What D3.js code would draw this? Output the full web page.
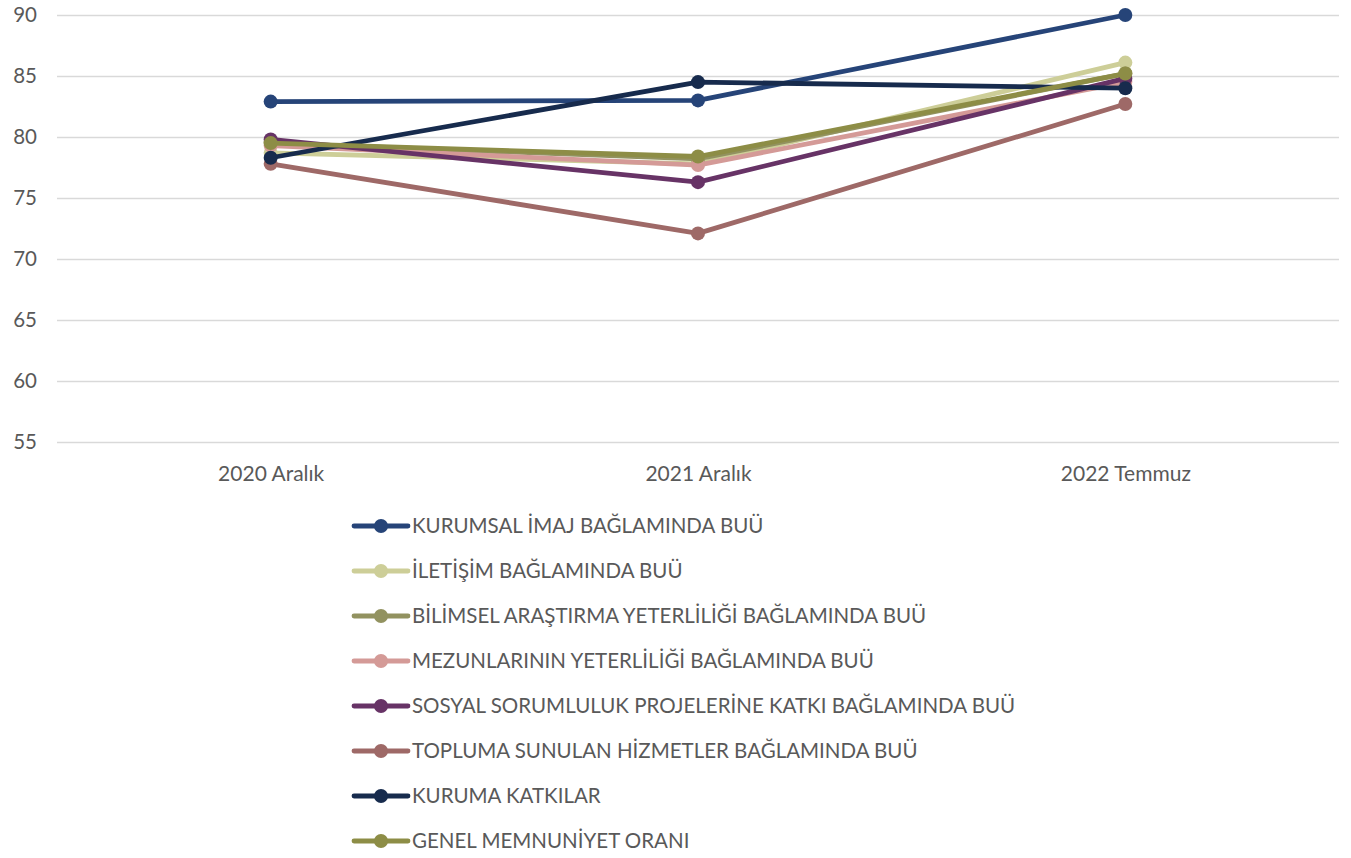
<!DOCTYPE html>
<html>
<head>
<meta charset="utf-8">
<script src="https://cdn.jsdelivr.net/npm/d3@7"></script>
<style>
  body { margin: 0; background: #fff; }
  text { font-family: Lato, "Open Sans", sans-serif; fill: #595959; }
</style>
</head>
<body>
<script>
// periods on the x axis
const periods = ['2020 Aralık', '2021 Aralık', '2022 Temmuz'];

// series names, in draw order
const seriesNames = [
  'KURUMSAL İMAJ BAĞLAMINDA BUÜ',
  'İLETİŞİM BAĞLAMINDA BUÜ',
  'BİLİMSEL ARAŞTIRMA YETERLİLİĞİ BAĞLAMINDA BUÜ',
  'MEZUNLARININ YETERLİLİĞİ BAĞLAMINDA BUÜ',
  'SOSYAL SORUMLULUK PROJELERİNE KATKI BAĞLAMINDA BUÜ',
  'TOPLUMA SUNULAN HİZMETLER BAĞLAMINDA BUÜ',
  'KURUMA KATKILAR',
  'GENEL MEMNUNİYET ORANI'
];

// values per series, one per period
const kurumsal = [82.9, 83.0, 90.0];
const iletisim = [78.7, 77.8, 86.1];
const bilimsel = [79.5, 78.2, 85.2];
const mezun = [79.3, 77.7, 84.5];
const sosyal = [79.8, 76.3, 84.8];
const topluma = [77.8, 72.1, 82.7];
const kuruma = [78.3, 84.5, 84.0];
const genel = [79.5, 78.4, 85.2];

const seriesColors = ['#264478', '#cdce98', '#929260', '#d49a97', '#673366', '#9e6967', '#172b4d', '#8d8d46'];

const yTicks = [55, 60, 65, 70, 75, 80, 85, 90];

const allValues = [kurumsal, iletisim, bilimsel, mezun, sosyal, topluma, kuruma, genel];
const series = seriesNames.map((n, i) => ({name: n, values: allValues[i], color: seriesColors[i]}));

const width = 1351, height = 858;
const margin = {top: 15, right: 12, bottom: 416, left: 57};

const svg = d3.select('body').append('svg')
  .attr('width', width)
  .attr('height', height);

const xScale = d3.scalePoint()
  .domain(periods)
  .range([margin.left, width - margin.right])
  .padding(0.5);

const yScale = d3.scaleLinear()
  .domain([55, 90])
  .range([height - margin.bottom, margin.top]);

// grid lines
const yAxis = d3.axisLeft(yScale)
  .tickValues(yTicks)
  .tickSize(-(width - margin.right - margin.left))
  .tickFormat(d3.format('d'));

const gy = svg.append('g')
  .attr('transform', `translate(${margin.left},0)`)
  .call(yAxis);
gy.select('.domain').remove();
gy.selectAll('line').attr('stroke', '#d9d9d9').attr('stroke-width', 1.3);
gy.selectAll('text')
  .attr('x', -20)
  .attr('font-size', 20.5)
  .style('font-family', 'Lato, sans-serif')
  .attr('fill', '#595959');

// x labels
const xAxis = d3.axisBottom(xScale).tickSize(0);
const gx = svg.append('g')
  .attr('transform', `translate(0,${height - margin.bottom})`)
  .call(xAxis);
gx.select('.domain').remove();
gx.selectAll('text')
  .attr('dy', 0)
  .attr('y', 39)
  .attr('font-size', 21)
  .style('font-family', 'Lato, sans-serif')
  .attr('fill', '#595959');

// lines + markers
const line = d3.line()
  .x((d, i) => xScale(periods[i]))
  .y(d => yScale(d));

series.forEach(function(s){
  const g = svg.append('g');
  g.append('path')
    .datum(s.values)
    .attr('d', line)
    .attr('fill', 'none')
    .attr('stroke', s.color)
    .attr('stroke-width', 4.8)
    .attr('stroke-linejoin', 'round');
  g.selectAll('circle')
    .data(s.values)
    .join('circle')
    .attr('cx', (d, i) => xScale(periods[i]))
    .attr('cy', d => yScale(d))
    .attr('r', 7)
    .attr('fill', s.color);
});

// legend
const legend = svg.append('g').attr('transform', 'translate(354,526)');
series.forEach(function(s, i){
  const row = legend.append('g').attr('transform', `translate(0,${i * 45})`);
  row.append('line')
    .attr('x1', 0).attr('x2', 54)
    .attr('stroke', s.color)
    .attr('stroke-width', 4.8)
    .attr('stroke-linecap', 'round');
  row.append('circle')
    .attr('cx', 27).attr('r', 7)
    .attr('fill', s.color);
  row.append('text')
    .attr('x', 58)
    .attr('dy', '0.35em')
    .attr('font-size', 20.5)
    .text(s.name);
});
</script>
</body>
</html>
